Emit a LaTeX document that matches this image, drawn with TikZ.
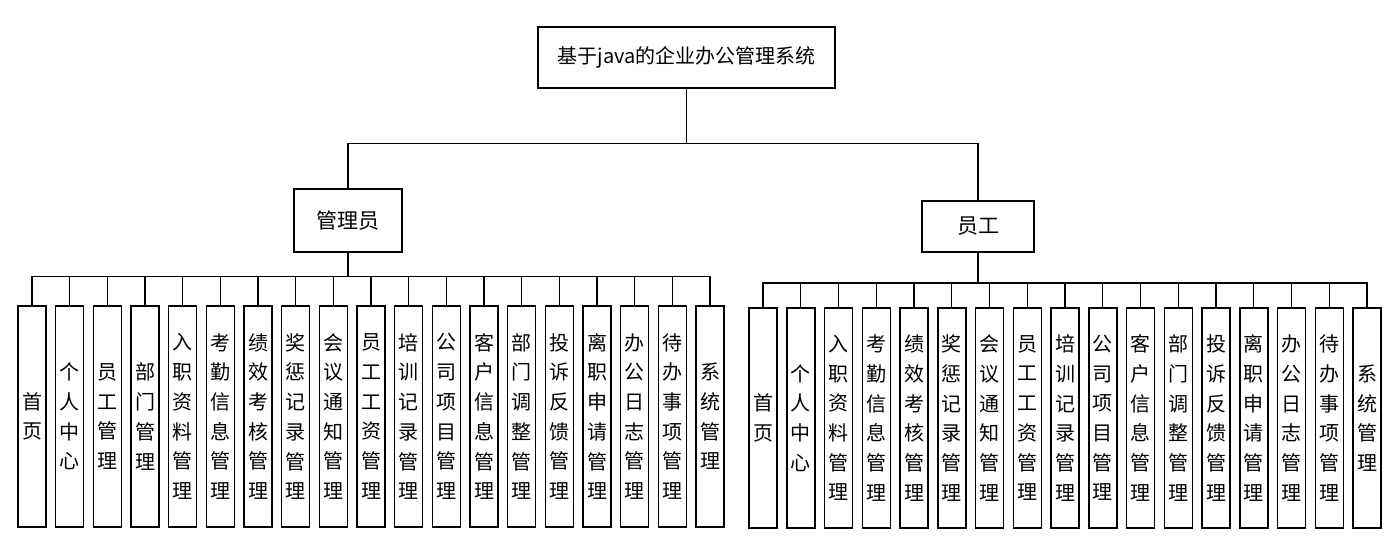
\documentclass[tikz,border=0pt]{standalone}
\usepackage{fontspec}
\newfontfamily\cjk{Noto Sans CJK SC}
\usepackage{tikz}

\begin{document}
\begin{tikzpicture}[x=0.5pt,y=-0.5pt,line width=0.65pt,
    top/.style={rectangle,draw=black,line width=0.75pt,inner sep=0pt,font=\cjk\fontsize{10.5}{12}\selectfont},
    item/.style={rectangle,draw=black,line width=0.75pt,inner sep=0pt,align=center,
        minimum width=14pt,font=\cjk\fontsize{10}{14.85}\selectfont}]
        \useasboundingbox (0,0) rectangle (1399,547);
        \node at (686.5,57.5)[top,minimum width=148.5pt,minimum height=30.5pt,font=\cjk\fontsize{10}{12}\selectfont] (sys) {基于java的企业办公管理系统};
        \node at (348,220.5)[top,minimum width=54pt,minimum height=31.5pt] (admin) {管理员};
        \node at (978,226.5)[top,minimum width=56pt,minimum height=25.5pt] (staff) {员工};
        \coordinate (topbus) at (686.5,143.5);
        \coordinate (abus) at (348,276.5);
        \coordinate (sbus) at (978,283);
        % 管理员
        \node at (32,416.5)[item,minimum height=110.5pt] (a1) {首\\页};
        \node at (69.7,416.5)[item,minimum height=110.5pt] (a2) {个\\人\\中\\心};
        \node at (107.3,416.5)[item,minimum height=110.5pt] (a3) {员\\工\\管\\理};
        \node at (145,416.5)[item,minimum height=110.5pt] (a4) {部\\门\\管\\理};
        \node at (182.7,416.5)[item,minimum height=110.5pt] (a5) {入\\职\\资\\料\\管\\理};
        \node at (220.3,416.5)[item,minimum height=110.5pt] (a6) {考\\勤\\信\\息\\管\\理};
        \node at (258,416.5)[item,minimum height=110.5pt] (a7) {绩\\效\\考\\核\\管\\理};
        \node at (295.7,416.5)[item,minimum height=110.5pt] (a8) {奖\\惩\\记\\录\\管\\理};
        \node at (333.3,416.5)[item,minimum height=110.5pt] (a9) {会\\议\\通\\知\\管\\理};
        \node at (371,416.5)[item,minimum height=110.5pt] (a10) {员\\工\\工\\资\\管\\理};
        \node at (408.7,416.5)[item,minimum height=110.5pt] (a11) {培\\训\\记\\录\\管\\理};
        \node at (446.3,416.5)[item,minimum height=110.5pt] (a12) {公\\司\\项\\目\\管\\理};
        \node at (484,416.5)[item,minimum height=110.5pt] (a13) {客\\户\\信\\息\\管\\理};
        \node at (521.7,416.5)[item,minimum height=110.5pt] (a14) {部\\门\\调\\整\\管\\理};
        \node at (559.3,416.5)[item,minimum height=110.5pt] (a15) {投\\诉\\反\\馈\\管\\理};
        \node at (597,416.5)[item,minimum height=110.5pt] (a16) {离\\职\\申\\请\\管\\理};
        \node at (634.7,416.5)[item,minimum height=110.5pt] (a17) {办\\公\\日\\志\\管\\理};
        \node at (672.3,416.5)[item,minimum height=110.5pt] (a18) {待\\办\\事\\项\\管\\理};
        \node at (710,416.5)[item,minimum height=110.5pt] (a19) {系\\统\\管\\理};
        % 员工
        \node at (763,418)[item,minimum height=110pt] (s1) {首\\页};
        \node at (800.75,418)[item,minimum height=110pt] (s2) {个\\人\\中\\心};
        \node at (838.5,418)[item,minimum height=110pt] (s3) {入\\职\\资\\料\\管\\理};
        \node at (876.25,418)[item,minimum height=110pt] (s4) {考\\勤\\信\\息\\管\\理};
        \node at (914,418)[item,minimum height=110pt] (s5) {绩\\效\\考\\核\\管\\理};
        \node at (951.75,418)[item,minimum height=110pt] (s6) {奖\\惩\\记\\录\\管\\理};
        \node at (989.5,418)[item,minimum height=110pt] (s7) {会\\议\\通\\知\\管\\理};
        \node at (1027.25,418)[item,minimum height=110pt] (s8) {员\\工\\工\\资\\管\\理};
        \node at (1065,418)[item,minimum height=110pt] (s9) {培\\训\\记\\录\\管\\理};
        \node at (1102.75,418)[item,minimum height=110pt] (s10) {公\\司\\项\\目\\管\\理};
        \node at (1140.5,418)[item,minimum height=110pt] (s11) {客\\户\\信\\息\\管\\理};
        \node at (1178.25,418)[item,minimum height=110pt] (s12) {部\\门\\调\\整\\管\\理};
        \node at (1216,418)[item,minimum height=110pt] (s13) {投\\诉\\反\\馈\\管\\理};
        \node at (1253.75,418)[item,minimum height=110pt] (s14) {离\\职\\申\\请\\管\\理};
        \node at (1291.5,418)[item,minimum height=110pt] (s15) {办\\公\\日\\志\\管\\理};
        \node at (1329.25,418)[item,minimum height=110pt] (s16) {待\\办\\事\\项\\管\\理};
        \node at (1367,418)[item,minimum height=110pt] (s17) {系\\统\\管\\理};
        % connectors
        \draw (sys) to (topbus) -| (admin.north);
        \draw (topbus) -| (staff.north);
        \draw (admin) to (abus)
            (abus) -| (a1.north) (abus) -| (a2.north) (abus) -| (a3.north) (abus) -| (a4.north)
            (abus) -| (a5.north) (abus) -| (a6.north) (abus) -| (a7.north) (abus) -| (a8.north)
            (abus) -| (a9.north) (abus) -| (a10.north) (abus) -| (a11.north) (abus) -| (a12.north)
            (abus) -| (a13.north) (abus) -| (a14.north) (abus) -| (a15.north) (abus) -| (a16.north)
            (abus) -| (a17.north) (abus) -| (a18.north) (abus) -| (a19.north);
        \draw [line width=1pt] (staff) to (sbus);
        \draw (sbus) -| (s1.north) (sbus) -| (s2.north) (sbus) -| (s3.north) (sbus) -| (s4.north)
            (sbus) -| (s5.north) (sbus) -| (s6.north) (sbus) -| (s7.north) (sbus) -| (s8.north)
            (sbus) -| (s9.north) (sbus) -| (s10.north) (sbus) -| (s11.north) (sbus) -| (s12.north)
            (sbus) -| (s13.north) (sbus) -| (s14.north) (sbus) -| (s15.north) (sbus) -| (s16.north)
            (sbus) -| (s17.north);
    \end{tikzpicture}
\end{document}
